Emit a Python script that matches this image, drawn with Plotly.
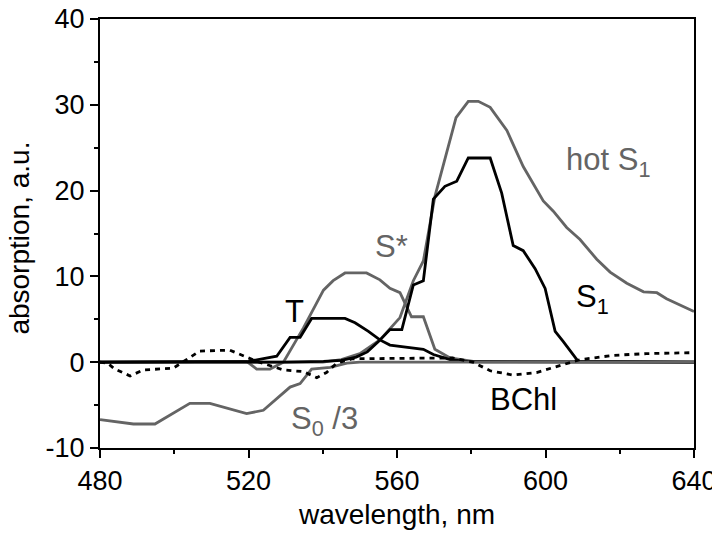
import plotly.graph_objects as go

# ---- data ----
hot_s1_x = [480, 540, 545, 550, 555.4, 560.8, 564.4, 567.1, 570.2, 573.4, 574.7, 575.9, 579.2, 581.9,
            585.1, 589.6, 594, 599.4, 602.1, 605.7, 609.3, 613.8, 617.4, 621.9, 626.4, 630, 632.6, 638.9, 640]
hot_s1_y = [0, 0, 0.3, 1.0, 2.6, 5.2, 9.5, 11.8, 19.3, 24.3, 26.6, 28.5, 30.4, 30.4,
            29.7, 27.0, 22.8, 18.8, 17.6, 15.7, 14.3, 12.0, 10.5, 9.2, 8.2, 8.1, 7.4, 6.1, 5.9]

s_star_x = [480, 519.5, 522.2, 525.8, 529.4, 534.8, 540.2, 542.8, 546, 551.8, 555.4, 558.1, 560.8,
            563.9, 567.1, 570.2, 574.3, 580.5, 640]
s_star_y = [0, 0.1, -0.8, -0.8, 0, 4.0, 8.4, 9.5, 10.4, 10.4, 9.6, 8.6, 8.1,
            5.3, 5.3, 1.5, 0.5, 0.1, 0]

t_x = [480, 520, 527.6, 531.2, 533.9, 537, 546, 548.7, 552.3, 555.4, 558.1, 564.4, 567.1, 569.8,
       574.3, 580, 640]
t_y = [0, 0.1, 0.7, 2.9, 2.9, 5.1, 5.1, 4.6, 3.6, 2.6, 2.0, 1.7, 1.5, 0.9,
       0.3, 0.05, 0]

s1_x = [480, 530, 540.2, 545, 549, 552, 555, 558.1, 561.3, 564.4, 567.1, 569.8, 572.9, 576.1,
        579.2, 585.1, 588.2, 591.3, 594, 597.2, 599.9, 602.6, 604.8, 608.8, 640]
s1_y = [0, 0, 0.1, 0.2, 0.6, 1.2, 2.4, 3.8, 3.8, 9.0, 9.5, 19.0, 20.5, 21.1,
        23.8, 23.8, 19.7, 13.6, 13.0, 10.9, 8.6, 3.6, 2.4, 0.1, 0]

s0_x = [480, 489, 494.8, 504.2, 509.6, 519.5, 524, 531.2, 533.9, 537, 542, 546.5, 550, 640]
s0_y = [-6.7, -7.2, -7.2, -4.8, -4.8, -6.0, -5.6, -2.9, -2.5, -0.8, -0.6, -0.1, 0, 0]

bchl_x = [480, 482, 484, 488.1, 491.7, 499.7, 503.3, 506.9, 515, 519.5, 522.2, 529.4, 534.8, 538.4,
          541, 543.8, 548, 575, 580.5, 585.1, 591.3, 597.6, 603.9, 609.3, 618.3, 627.2, 638.9, 640]
bchl_y = [0, -0.1, -0.8, -1.6, -0.9, -0.7, 0.3, 1.3, 1.4, 0.6, 0.1, -0.9, -1.1, -1.8,
          -1.2, -0.1, 0.4, 0.5, 0, -1.0, -1.5, -1.2, -0.4, 0.3, 0.8, 1.0, 1.1, 1.1]

x_ticks = [480, 520, 560, 600, 640]
y_ticks = [-10, 0, 10, 20, 30, 40]
y_tick_text = ["-10", "0", "10", "20", "30", "40"]

GRAY = "#646464"
BLACK = "#000000"
FONT = "Liberation Sans, Arial, sans-serif"
LW = 2.8

fig = go.Figure()
fig.add_trace(go.Scatter(x=s_star_x, y=s_star_y, mode="lines", line=dict(color=GRAY, width=LW)))
fig.add_trace(go.Scatter(x=hot_s1_x, y=hot_s1_y, mode="lines", line=dict(color=GRAY, width=LW)))
fig.add_trace(go.Scatter(x=t_x, y=t_y, mode="lines", line=dict(color=BLACK, width=LW)))
fig.add_trace(go.Scatter(x=s1_x, y=s1_y, mode="lines", line=dict(color=BLACK, width=LW)))
fig.add_trace(go.Scatter(x=s0_x, y=s0_y, mode="lines", line=dict(color=GRAY, width=LW)))
fig.add_trace(go.Scatter(x=bchl_x, y=bchl_y, mode="lines",
                         line=dict(color=BLACK, width=LW, dash="5px,5px")))

labels = [
    ("hot S<sub>1</sub>", 616.9, 23.3, GRAY),
    ("S*", 558.5, 13.5, GRAY),
    ("T", 532.3, 5.9, BLACK),
    ("S<sub>0</sub> /3", 540.6, -6.9, GRAY),
    ("S<sub>1</sub>", 612.7, 7.4, BLACK),
    ("BChl", 594.2, -4.3, BLACK),
]
for txt, ax, ay, col in labels:
    fig.add_annotation(x=ax, y=ay, text=txt, showarrow=False, xanchor="center", yanchor="middle",
                       font=dict(family=FONT, size=31, color=col))

# y-axis title placed as a rotated annotation to the left of the tick labels
fig.add_annotation(text="absorption, a.u.", xref="paper", yref="paper", x=-0.135, y=0.49,
                   xanchor="center", yanchor="middle", textangle=-90, showarrow=False,
                   font=dict(family=FONT, size=28, color="black"))

# the page body adds an 8px margin, so the figure is sized to fit inside the 720x533 window
fig.update_layout(
    width=712, height=525,
    margin=dict(l=92, r=26, t=11, b=85),
    paper_bgcolor="white", plot_bgcolor="white",
    showlegend=False,
    font=dict(family=FONT, size=27, color="black"),
)
fig.update_xaxes(
    range=[480, 640], tickvals=x_ticks, automargin=False,
    showline=True, linecolor="black", linewidth=2, mirror=True,
    ticks="outside", ticklen=8, tickwidth=2, tickcolor="black",
    minor=dict(ticks="outside", ticklen=4, tickwidth=2, dtick=20, tickcolor="black", showgrid=False),
    showgrid=False, zeroline=False, ticklabeloverflow="allow",
    tickfont=dict(size=27),
    title=dict(text="wavelength, nm", font=dict(size=28), standoff=9),
)
fig.update_yaxes(
    range=[-10, 40], tickvals=y_ticks, ticktext=y_tick_text, automargin=False,
    showline=True, linecolor="black", linewidth=2, mirror=True,
    ticks="outside", ticklen=8, tickwidth=2, tickcolor="black",
    minor=dict(ticks="outside", ticklen=4, tickwidth=2, dtick=5, tickcolor="black", showgrid=False),
    showgrid=False, zeroline=False, ticklabeloverflow="allow",
    tickfont=dict(size=27),
)

fig.write_html("out.html")
